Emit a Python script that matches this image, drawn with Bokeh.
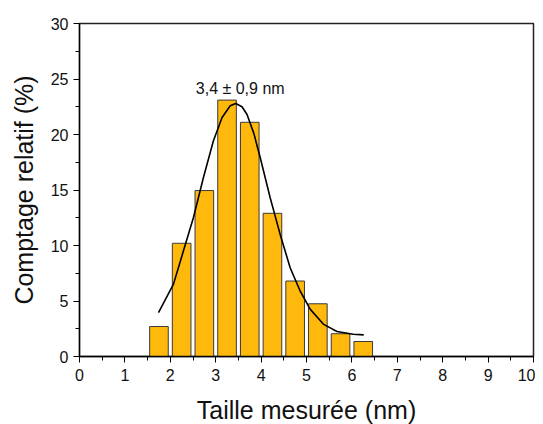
from bokeh.plotting import figure
from bokeh.models import Range1d, FixedTicker, ColumnDataSource, Label
from bokeh.embed import file_html
from bokeh.resources import INLINE

# Histogram data (bin centres in nm, relative counts in %)
bin_centers = [1.75, 2.25, 2.75, 3.25, 3.75, 4.25, 4.75, 5.25, 5.75, 6.25]
counts = [2.7, 10.2, 14.95, 23.1, 21.1, 12.9, 6.8, 4.75, 2.05, 1.35]

# Fit curve points
fit_x = [1.74, 2.07, 2.29, 2.51, 2.73, 2.95, 3.14, 3.32, 3.44, 3.58, 3.69, 3.84, 3.98,
         4.20, 4.42, 4.64, 4.86, 5.08, 5.37, 5.67, 6.03, 6.26]
fit_y = [3.96, 6.52, 9.52, 12.52, 16.13, 19.43, 21.53, 22.59, 22.8, 22.5, 21.8, 20.1, 17.93,
         14.3, 11.0, 8.0, 5.9, 4.27, 2.92, 2.25, 2.0, 1.95]

x_ticks = [0, 1, 2, 3, 4, 5, 6, 7, 8, 9, 10]
y_ticks = [0, 5, 10, 15, 20, 25, 30]
annotation = "3,4 \u00b1 0,9 nm"

FONT = "Liberation Sans"

p = figure(width=535, height=420, output_backend="svg", toolbar_location=None,
           x_range=Range1d(0, 10), y_range=Range1d(0, 30),
           frame_width=454, frame_height=333,
           min_border_left=79, min_border_top=23, min_border_right=2, min_border_bottom=64)

src = ColumnDataSource(dict(x=bin_centers, top=counts))
p.vbar(x="x", top="top", width=0.41, bottom=0, source=src,
       fill_color="#FFB80C", line_color="#3a3a3a", line_width=1)
p.line(fit_x, fit_y, line_color="black", line_width=1.6)

p.add_layout(Label(x=3.54, y=24.1, text=annotation, text_align="center",
                   text_baseline="middle", text_font=FONT, text_font_size="16px",
                   text_color="#111111"))

p.xgrid.visible = False
p.ygrid.visible = False
p.outline_line_color = "#222222"
p.outline_line_width = 1.5
p.background_fill_color = "white"
p.border_fill_color = "white"

xa = p.xaxis[0]
xa.ticker = FixedTicker(ticks=x_ticks, minor_ticks=[v + 0.5 for v in x_ticks[:-1]])
ya = p.yaxis[0]
ya.ticker = FixedTicker(ticks=y_ticks, minor_ticks=[v + 2.5 for v in y_ticks[:-1]])

for ax in (xa, ya):
    ax.major_tick_in = 0
    ax.major_tick_out = 6
    ax.minor_tick_in = 0
    ax.minor_tick_out = 4
    ax.axis_line_color = "black"
    ax.axis_line_width = 1.3
    ax.major_tick_line_color = "black"
    ax.minor_tick_line_color = "black"
    ax.major_label_text_font = FONT
    ax.major_label_text_font_size = "16px"
    ax.major_label_text_color = "#111111"
    ax.axis_label_text_font = FONT
    ax.axis_label_text_font_size = "25px"
    ax.axis_label_text_font_style = "normal"
    ax.axis_label_text_color = "#111111"

xa.axis_label = "Taille mesur\u00e9e (nm)"
ya.axis_label = "Comptage relatif (%)"
xa.major_label_standoff = 6
ya.major_label_standoff = 5
xa.axis_label_standoff = 12
ya.axis_label_standoff = 10

open("out.html", "w").write(file_html(p, INLINE))
